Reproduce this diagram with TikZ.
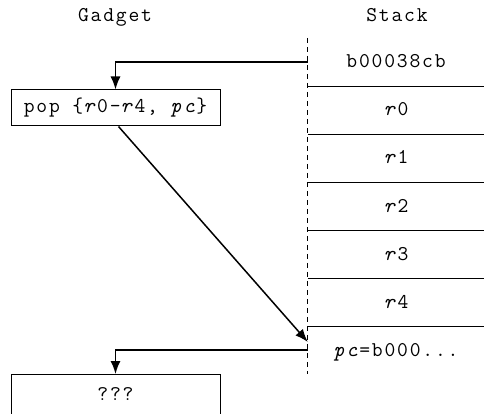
\documentclass[tikz,border=0pt]{standalone}
\usepackage{fontspec}
\setmonofont[LetterSpace=8.6]{Latin Modern Mono}
\usetikzlibrary{arrows.meta,positioning,calc}
\tikzset{
  title/.style  = {anchor=base, inner sep=0pt},
  slot/.style   = {rectangle, minimum width=176, minimum height=48, inner sep=0pt,
                   text height=15pt, text depth=3pt},
  gadget/.style = {draw, line width=1pt, rectangle, minimum width=209,
                   minimum height=36, inner sep=0pt, text height=14pt, text depth=4pt},
  txt/.style    = {inner sep=0pt, text height=15pt, text depth=3pt},
  sep/.style    = {line width=1pt},
  border/.style = {line width=0.8pt, dash pattern=on 5pt off 4pt},
  jump/.style   = {-{Latex[length=13pt,width=10pt]}, line width=1.5pt},
}

\begin{document}
\begin{tikzpicture}[x=1pt,y=-1pt,font=\ttfamily\fontsize{21}{25}\selectfont]
\useasboundingbox (0,0) rectangle (484,414);
\clip (0,0) rectangle (484,414);
% ---- headings ----
\node[title] (hgadget) at (115,22) {Gadget};
\node[title] (hstack) at (397,22) {Stack};
% ---- stack slots ----
\node[slot] (s0) at (396,62) {b00038cb};
\foreach \k in {1,...,5}{
  \pgfmathtruncatemacro{\idx}{\k-1}
  \node[slot] (s\k) at (396,62+48*\k) {\textit{r}\idx};
}
\node[slot] (s6) at (396,350) {\textit{pc}=b000...};
\foreach \k in {0,...,5}
  \draw[sep] (s\k.south west) -- (s\k.south east);
\draw[border] (s0.north west) -- (s6.south west);
% ---- gadget column ----
\node[gadget] (pop) at (115.5,108) {pop \{\textit{r}0-\textit{r}4, \textit{pc}\}};
\node[gadget, anchor=north, minimum height=60] (next) at (115.5,374) {};
\node[txt] (qq) at (115.5,394) {???};
% ---- control flow ----
\draw[jump] (s0.west) -| (pop.north);
\draw[jump] ([xshift=3pt]pop.south) -- ([yshift=8pt]s6.west);
\draw[jump] (s6.west) -| (next.north);
\end{tikzpicture}
\end{document}
